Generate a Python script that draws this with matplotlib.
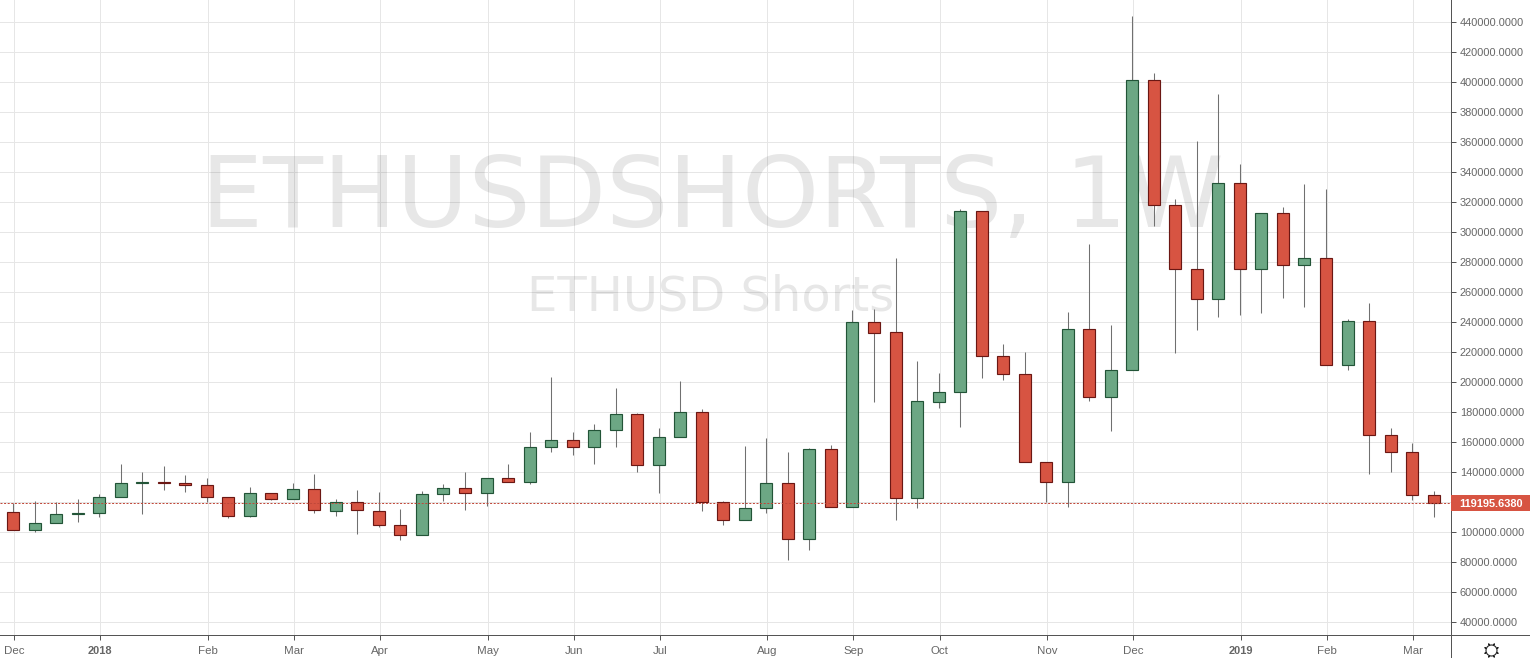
import matplotlib
matplotlib.use("Agg")
import matplotlib.pyplot as plt
from matplotlib.patches import Rectangle
from matplotlib.transforms import blended_transform_factory

plt.rcParams['font.family'] = ['Liberation Sans', 'DejaVu Sans']

OPENS = [113.1,101.1,105.8,111.8,112.4,123.1,132.4,133.3,132.4,131.1,123.1,110.4,125.8,121.8,128.4,113.6,119.8,113.8,104.4,97.8,125.1,
         129.1,125.6,135.8,132.9,156.4,161.1,156.4,167.8,178.4,144.4,163.1,179.8,119.8,107.8,115.8,132.4,95.1,155.1,116.4,240.0,233.3,122.7,
         186.7,193.3,314.0,217.3,205.3,146.7,133.3,235.3,190.0,208.0,401.3,318.0,275.3,255.3,332.7,275.3,312.7,278.0,282.7,211.3,240.7,164.4,153.1,124.4]
CLOSES = [101.1,105.8,111.8,112.4,123.1,132.4,133.3,132.4,131.1,123.1,110.4,125.8,121.8,128.4,114.4,119.8,114.4,104.4,97.8,125.1,129.1,
          125.8,135.8,133.1,156.4,161.1,156.4,167.8,178.4,144.4,163.1,179.8,119.8,107.8,115.8,132.4,95.1,155.1,116.4,240.0,232.7,122.7,187.3,
          193.3,314.0,217.3,205.3,146.7,133.3,235.3,190.0,208.0,401.3,318.0,275.3,255.3,332.7,275.3,312.7,278.0,282.7,211.3,240.7,164.7,153.1,124.4,119.2]
HIGHS = [119.1,120.7,120.0,121.8,125.1,145.3,140.0,144.0,138.0,135.8,123.1,129.8,125.8,132.4,138.4,121.8,127.8,126.4,115.1,127.1,132.0,
         140.0,135.8,145.3,166.7,203.3,166.7,172.0,196.0,179.0,169.3,200.7,182.0,120.7,157.3,162.7,153.3,156.0,158.0,248.0,248.7,282.7,214.0,
         206.0,315.3,314.0,225.3,220.0,146.7,246.7,292.0,238.0,444.0,406.0,322.0,360.7,392.0,345.3,312.7,316.7,332.0,328.7,242.0,252.7,169.3,159.3,127.3]
LOWS = [101.1,99.6,105.8,106.2,109.6,123.1,111.6,127.6,126.2,119.6,108.9,109.8,120.9,121.8,112.2,110.2,98.7,102.9,94.7,97.8,120.2,
        114.7,116.9,133.1,132.0,152.9,151.3,145.3,156.2,140.0,126.0,163.1,114.0,104.7,107.8,112.2,81.3,88.0,116.4,116.4,186.7,108.0,116.0,
        182.7,170.0,202.7,201.3,146.7,120.0,116.7,187.3,167.3,208.0,304.0,219.3,234.7,243.3,244.7,246.0,256.0,250.0,211.3,208.0,138.7,139.6,120.9,109.6]
X_TICK_POS = [0,4,9,13,17,22,26,30,35,39,43,48,52,57,61,65]
X_TICK_LABELS = ['Dec','2018','Feb','Mar','Apr','May','Jun','Jul','Aug','Sep','Oct','Nov','Dec','2019','Feb','Mar']
BOLD_LABELS = ['2018','2019']
Y_TICKS = list(range(40000, 440001, 20000))
LAST_PRICE = 119195.6380

W, H = 1530, 658
AX_R, AX_B = 1451, 635
X0, DX = 14.0, 21.525
Y0, KY = 621.6, 0.0015   # pixel of 40000, px per unit

UP_FILL, UP_EDGE = '#6ca784', '#225437'
DN_FILL, DN_EDGE = '#d75442', '#6b1713'
GRID = '#e6e6e6'
AXC = '#555555'
TXT = '#666666'
PX = 72 / 100
FS = 11 * PX

fig = plt.figure(figsize=(W/100, H/100), dpi=100, facecolor='white')
ax = fig.add_axes([0, (H-AX_B)/H, AX_R/W, AX_B/H])
ax.set_xlim(-X0/DX, (AX_R-X0)/DX)
ax.set_ylim(40000-(AX_B-Y0)/KY, 40000+Y0/KY)

ax.set_xticks(X_TICK_POS)
ax.set_xticklabels(X_TICK_LABELS, fontsize=11.5*PX, color=TXT)
for lab in ax.get_xticklabels():
    if lab.get_text() in BOLD_LABELS:
        lab.set_fontweight('bold')
        lab.set_fontsize(FS)
ax.yaxis.tick_right()
ax.set_yticks(Y_TICKS)
ax.set_yticklabels([f'{v:.4f}' for v in Y_TICKS], fontsize=FS, color=TXT)
ax.tick_params(axis='x', length=3.6, width=PX, color=AXC, pad=4.0)
ax.tick_params(axis='y', length=3.6, width=PX, color=AXC, pad=2.8)
ax.grid(True, color=GRID, lw=PX, zorder=0)
ax.set_axisbelow(True)
for s in ['top', 'left']:
    ax.spines[s].set_visible(False)
for s in ['right', 'bottom']:
    ax.spines[s].set_color(AXC)
    ax.spines[s].set_linewidth(PX)

ax.text(712/AX_R, 1-200/AX_B, 'ETHUSDSHORTS, 1W', transform=ax.transAxes, ha='center', va='center',
        fontsize=98*PX, family='DejaVu Sans', color='black', alpha=0.095, zorder=1.5)
ax.text(711/AX_R, 1-297/AX_B, 'ETHUSD Shorts', transform=ax.transAxes, ha='center', va='center',
        fontsize=48*PX, family='DejaVu Sans', color='black', alpha=0.095, zorder=1.5)

SHIFT = 1.0 / DX   # candles sit one pixel left of the grid lines
BW = 12.0 / DX
for i, (o, h, l, c) in enumerate(zip(OPENS, HIGHS, LOWS, CLOSES)):
    up = c >= o
    fill, edge = (UP_FILL, UP_EDGE) if up else (DN_FILL, DN_EDGE)
    ax.plot([i-SHIFT, i-SHIFT], [l*1000, h*1000], color='#707070', lw=PX*1.05, zorder=2, solid_capstyle='butt')
    lo, hi = min(o, c)*1000, max(o, c)*1000
    ax.add_patch(Rectangle((i-SHIFT-BW/2, lo), BW, hi-lo, facecolor=fill, edgecolor=edge, lw=PX*1.15, zorder=3))

ax.axhline(LAST_PRICE, color='#c0483a', lw=PX, ls=(0, (2, 1.6)), zorder=4)

trans = blended_transform_factory(ax.transAxes, ax.transData)
ax.add_patch(Rectangle((1, LAST_PRICE-8/KY), (W-AX_R)/AX_R, 16/KY, transform=trans, fc=DN_FILL, ec='none',
                       clip_on=False, zorder=9))
ax.text(1 + 40/AX_R, LAST_PRICE, f'{LAST_PRICE:.4f}', transform=trans, ha='center', va='center_baseline',
        color='white', fontsize=FS, fontweight='bold', zorder=10, clip_on=False)

# axis cross extensions and settings icon
fig.add_artist(plt.Line2D([AX_R/W, 1], [(H-AX_B)/H]*2, color=AXC, lw=PX))
fig.add_artist(plt.Line2D([AX_R/W]*2, [0, (H-AX_B)/H], color=AXC, lw=PX))
fig.add_artist(plt.Line2D([1490.5/W], [(H-650)/H], marker=(8, 2, 22.5), ms=15*PX, mec='#222222', mew=0.7, ls='none'))
fig.add_artist(plt.Line2D([1490.5/W], [(H-650)/H], marker='o', ms=11*PX, mfc='white', mec='#222222', mew=0.8, ls='none'))

fig.savefig('out.png', dpi=100, facecolor='white')
